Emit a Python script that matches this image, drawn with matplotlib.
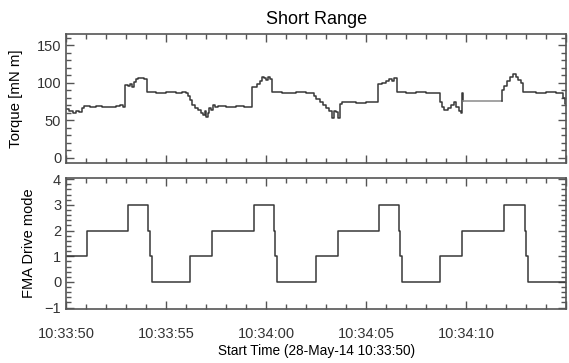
import numpy as np
import matplotlib
matplotlib.use('Agg')
import matplotlib.pyplot as plt
from matplotlib.ticker import MultipleLocator

plt.rcParams['font.family'] = ['Liberation Sans', 'DejaVu Sans']

# seconds after 10:33:50 and torque [mN m] (step trace)
torque_t = [0.0, 0.15, 0.35, 0.5, 0.65, 0.8, 0.9, 1.2, 1.5, 1.8, 2.2, 2.5, 2.7, 2.85,
            2.95, 3.1, 3.2, 3.3, 3.4, 3.5, 3.6, 3.9, 4.05, 4.5, 5.0, 5.5, 5.8, 6.0,
            6.1, 6.2, 6.3, 6.45, 6.6, 6.75, 6.85, 6.95, 7.0, 7.1, 7.15, 7.25, 7.35, 7.45,
            7.6, 8.0, 8.5, 8.9, 9.3, 9.45, 9.55, 9.7, 9.8, 9.9, 10.0, 10.1, 10.2, 10.3,
            10.8, 11.5, 12.0, 12.4, 12.5, 12.7, 12.85, 13.0, 13.15, 13.3, 13.4, 13.5, 13.6,
            13.7, 13.8, 14.5, 15.0, 15.6, 15.8, 16.0, 16.15, 16.3, 16.4, 16.55, 17.0, 17.5,
            18.0, 18.7, 18.8, 18.9, 19.1, 19.25, 19.4, 19.5, 19.65, 19.75, 19.8, 19.85,
            21.8, 21.9, 22.05, 22.2, 22.35, 22.5, 22.6, 22.75, 22.85, 23.5, 24.0, 24.5,
            24.85, 24.95, 25.0]
torque = [65, 62, 60, 63, 61, 66, 69, 68, 69, 68, 68, 69, 70, 68,
          97, 96, 99, 95, 101, 105, 106, 105, 88, 87, 88, 87, 88, 87,
          82, 77, 70, 66, 64, 60, 57, 62, 55, 60, 67, 64, 70, 68,
          69, 68, 69, 68, 94, 95, 99, 103, 108, 106, 104, 108, 105, 88,
          87, 88, 87, 83, 79, 75, 70, 67, 63, 53, 62, 61, 53,
          72, 74, 73, 74, 98, 100, 103, 105, 103, 107, 88, 87, 88,
          87, 75, 68, 64, 66, 70, 74, 68, 62, 60, 86, 76,
          90, 96, 103, 108, 112, 108, 104, 100, 88, 87, 88, 87,
          80, 72, 72]
# stretch with no samples (drawn lighter in the original)
gap_start, gap_end = 19.85, 21.8

# FMA drive mode steps
mode_t = [0.0, 1.05, 3.1, 4.1, 4.2, 4.3, 6.2, 7.3, 9.4, 10.4, 10.45, 10.55,
          12.5, 13.6, 15.65, 16.65, 16.7, 16.8, 18.7, 19.8, 21.9, 22.95, 23.0, 23.1, 25.0]
mode = [1, 2, 3, 2, 1, 0, 1, 2, 3, 2, 1, 0,
        1, 2, 3, 2, 1, 0, 1, 2, 3, 2, 1, 0, 0]

xticks = [0, 5, 10, 15, 20, 25]
xticklabels = ['10:33:50', '10:33:55', '10:34:00', '10:34:05', '10:34:10', '']

fig = plt.figure(figsize=(5.69, 3.63), dpi=100)
ax1 = fig.add_axes([0.116, 0.551, 0.879, 0.355])
ax2 = fig.add_axes([0.116, 0.149, 0.879, 0.361])

lc = '#383838'
tt = np.array(torque_t)
tq = np.array(torque, dtype=float)
i0 = int(np.searchsorted(tt, gap_start))
i1 = int(np.searchsorted(tt, gap_end))
ax1.plot(tt[:i0 + 1], tq[:i0 + 1], drawstyle='steps-post', color=lc, lw=1.1)
ax1.plot([tt[i0], tt[i1]], [tq[i0], tq[i0]], color='#8a8a8a', lw=1.1)
ax1.plot(np.r_[tt[i1], tt[i1:]], np.r_[tq[i0], tq[i1:]], drawstyle='steps-post', color=lc, lw=1.1)
ax2.plot(mode_t, mode, drawstyle='steps-post', color=lc, lw=1.1)

ax1.set_ylim(-7, 165)
ax1.set_yticks([0, 50, 100, 150])
ax1.yaxis.set_minor_locator(MultipleLocator(10))
ax1.set_ylabel('Torque [mN m]', fontsize=10.8, labelpad=10)
ax1.set_title('Short Range', fontsize=13, pad=7)

ax2.set_ylim(-1.05, 4.05)
ax2.set_yticks([-1, 0, 1, 2, 3, 4])
ax2.yaxis.set_minor_locator(MultipleLocator(0.2))
ax2.set_ylabel('FMA Drive mode', fontsize=10.5, labelpad=6)
ax2.set_xlabel('Start Time (28-May-14 10:33:50)', fontsize=9.8, labelpad=2)

for ax in (ax1, ax2):
    ax.set_xlim(0, 25)
    ax.set_xticks(xticks)
    ax.xaxis.set_minor_locator(MultipleLocator(1))
    ax.tick_params(which='both', direction='in', top=True, right=True,
                   color='#555555', labelsize=10.5, labelcolor='#333333')
    ax.tick_params(which='major', length=6, width=1)
    ax.tick_params(which='minor', length=3.5, width=1)
    for s in ax.spines.values():
        s.set_color('#555555')
        s.set_linewidth(1.2)

ax1.set_xticklabels([])
ax2.set_xticklabels(xticklabels)
ax2.tick_params(axis='x', pad=13)

fig.savefig('out.png', dpi=100)
